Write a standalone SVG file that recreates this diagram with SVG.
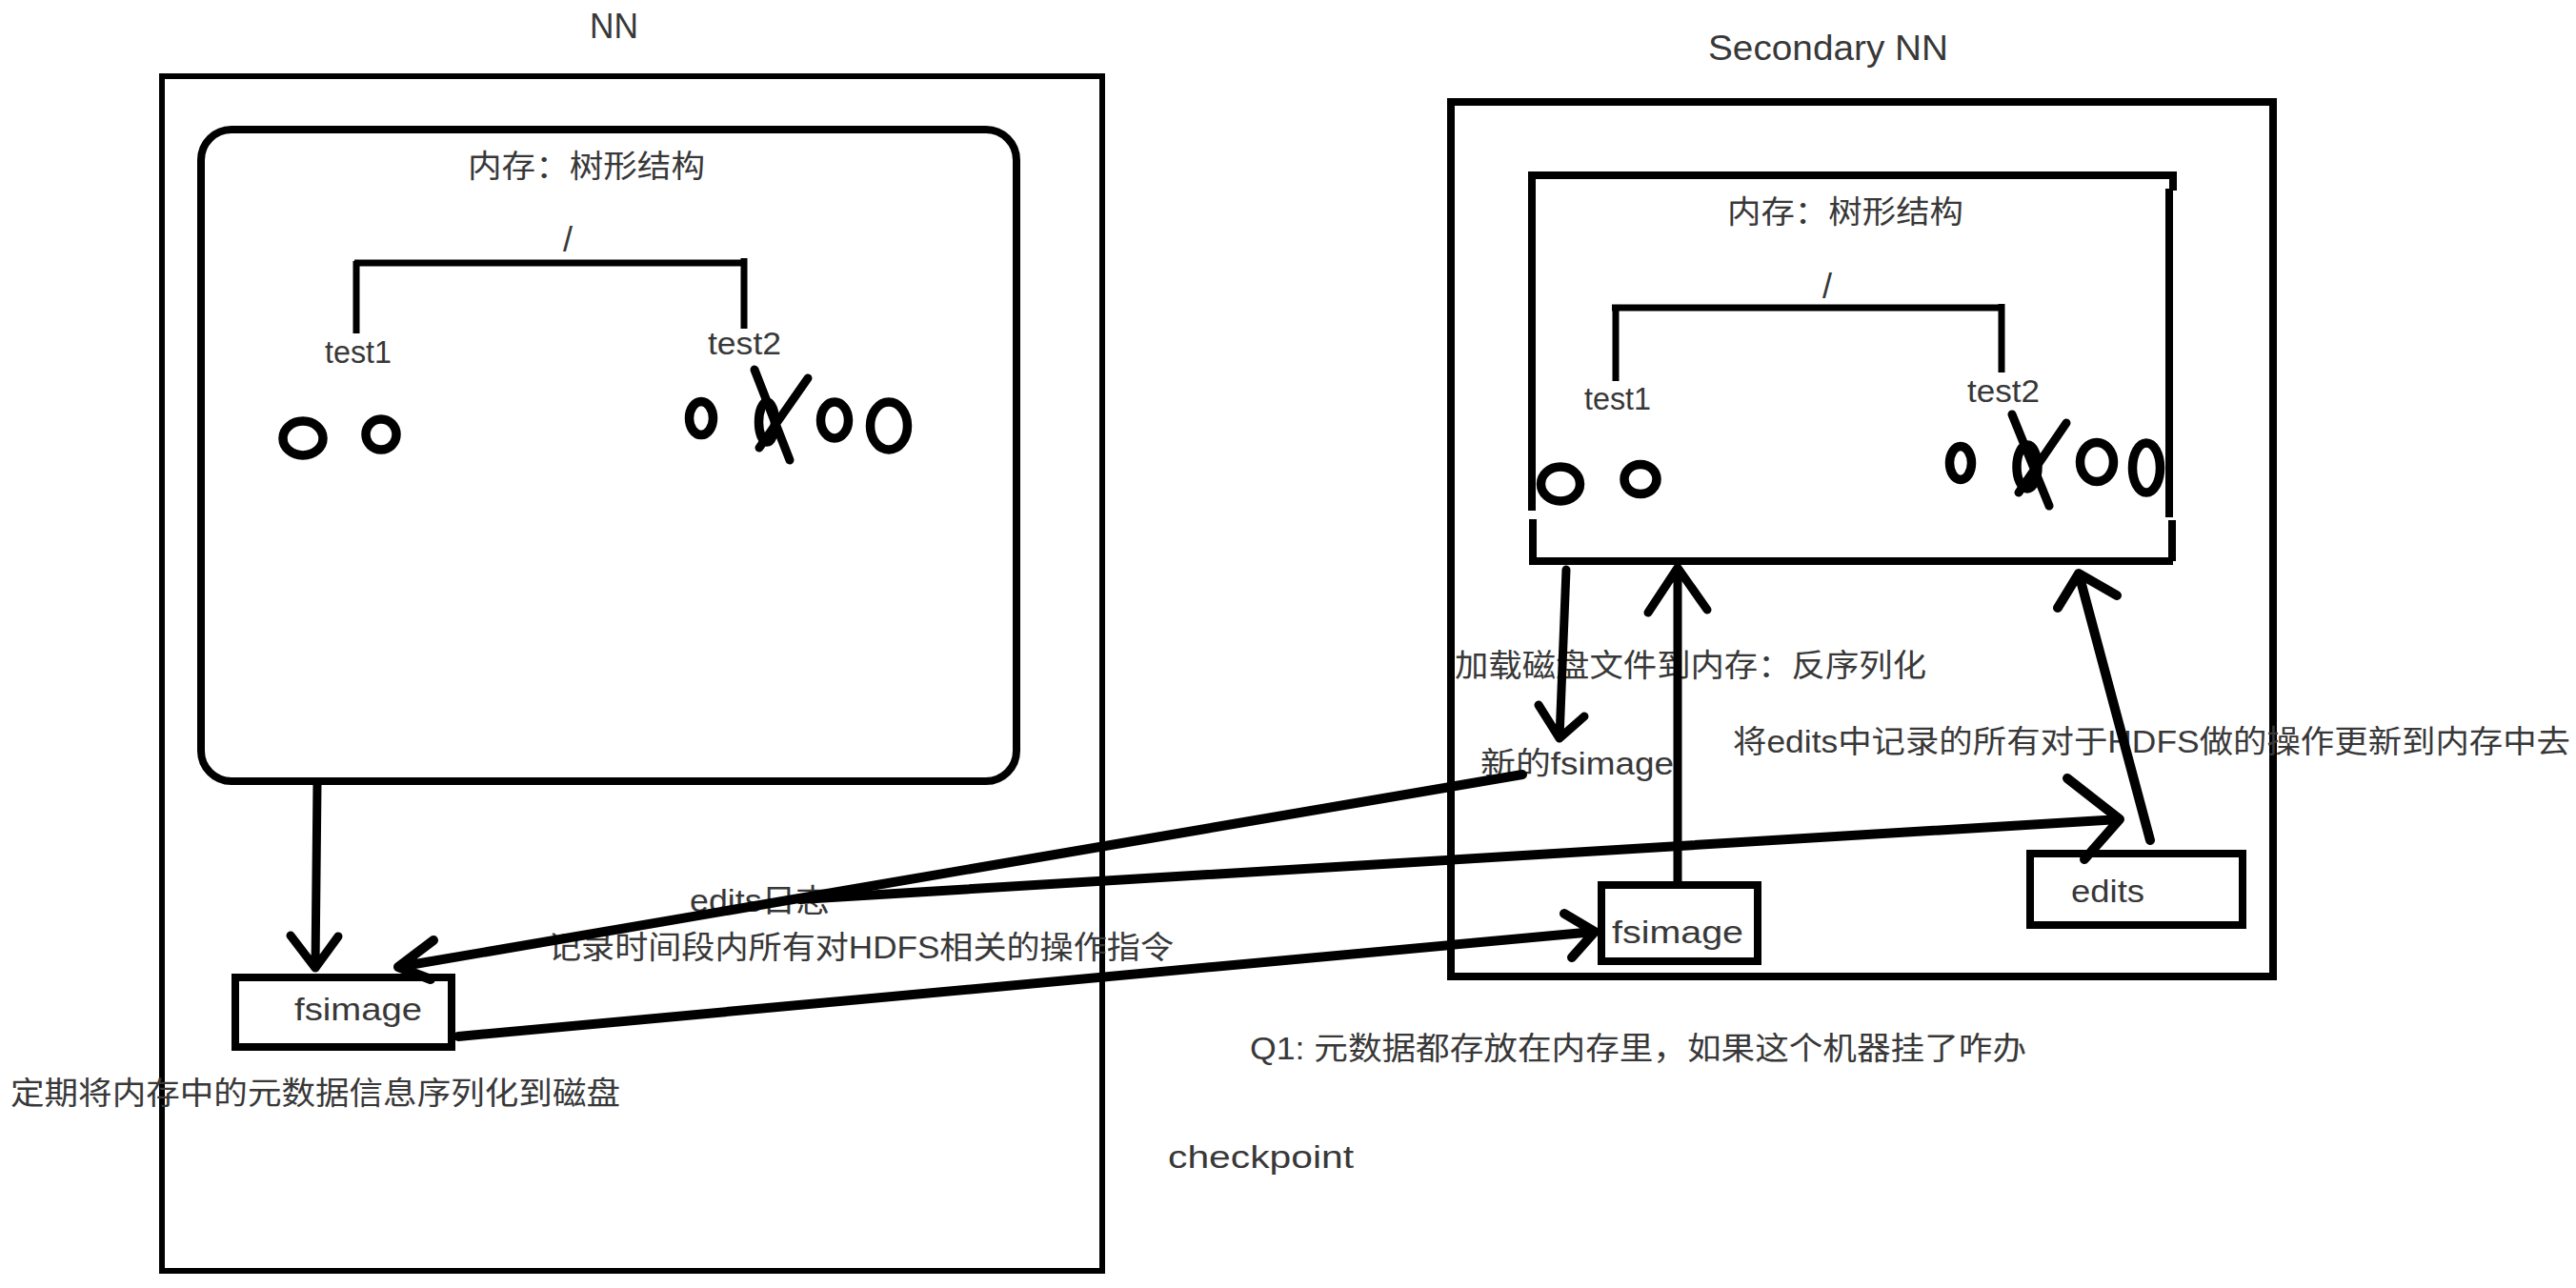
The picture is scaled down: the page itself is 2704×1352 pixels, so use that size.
<svg xmlns="http://www.w3.org/2000/svg" width="2704" height="1352" viewBox="0 0 2704 1352">
<style>
.t{font-family:"Liberation Sans","Noto Sans CJK SC",sans-serif;font-size:33px;fill:#383838}
.big{font-size:36px}
.box{fill:none;stroke:#000;stroke-width:8}
.thin{fill:none;stroke:#000;stroke-width:6}
.o{fill:none;stroke:#000;stroke-width:9.5}
.tree{fill:none;stroke:#000;stroke-width:7;stroke-linecap:butt}
.c{fill:none;stroke:#000;stroke-width:9;stroke-linecap:round;stroke-linejoin:round}
.w{stroke-width:10}
</style>
<rect width="2704" height="1352" fill="#fff"/>

<g id="nn">
  <text class="t big" x="619" y="40" textLength="51" lengthAdjust="spacingAndGlyphs">NN</text>
  <rect class="thin" x="170" y="80" width="987" height="1254"/>
  <g id="nn-memory">
    <rect class="box" x="211" y="136" width="856" height="684" rx="32" ry="32"/>
    <text class="t" x="491" y="186" textLength="249" lengthAdjust="spacingAndGlyphs">内存：树形结构</text>
    <text class="t big" x="591" y="264">/</text>
    <path class="tree" d="M372,276 H781 M374,274 V350 M781,271 V345"/>
    <text class="t" x="341" y="381" font-size="34" textLength="70" lengthAdjust="spacingAndGlyphs">test1</text>
    <text class="t" x="743" y="372" font-size="34" textLength="77" lengthAdjust="spacingAndGlyphs">test2</text>
    <ellipse class="o" cx="318" cy="460" rx="21" ry="18"/>
    <ellipse class="o" cx="400" cy="456" rx="16" ry="16"/>
    <ellipse class="o" cx="736" cy="439" rx="12.5" ry="17.5"/>
    <ellipse class="o" cx="805" cy="443" rx="8.5" ry="21"/>
    <path class="c" d="M792,388 L829,483 M848,397 L797,470"/>
    <ellipse class="o" cx="876" cy="441" rx="14.5" ry="19"/>
    <ellipse class="o" cx="933" cy="447" rx="19.5" ry="25"/>
  </g>
  <g id="nn-fsimage">
    <rect class="box" x="247" y="1026" width="227" height="73"/>
    <text class="t" x="309" y="1071" textLength="134" lengthAdjust="spacingAndGlyphs">fsimage</text>
  </g>
  <text class="t" x="11" y="1159" textLength="640" lengthAdjust="spacingAndGlyphs">定期将内存中的元数据信息序列化到磁盘</text>
</g>

<g id="snn">
  <text class="t big" x="1793" y="63" textLength="252" lengthAdjust="spacingAndGlyphs">Secondary NN</text>
  <rect class="box" x="1523" y="107" width="863" height="918"/>
  <g id="snn-memory">
    <path class="box" d="M1604,184 H2281 V200 M1608,182 V536 M1609,545 V593 M1605,589 H2281 M2277,198 V543 M2280,546 V589"/>
    <text class="t" x="1813" y="234" textLength="248" lengthAdjust="spacingAndGlyphs">内存：树形结构</text>
    <text class="t big" x="1913" y="313">/</text>
    <path class="tree" d="M1692,323 H2101 M1696,321 V400 M2101,319 V391"/>
    <text class="t" x="1663" y="430" font-size="34" textLength="70" lengthAdjust="spacingAndGlyphs">test1</text>
    <text class="t" x="2065" y="422" font-size="34" textLength="76" lengthAdjust="spacingAndGlyphs">test2</text>
    <ellipse class="o" cx="1638" cy="508" rx="20.5" ry="18"/>
    <ellipse class="o" cx="1722" cy="503" rx="17" ry="15.5"/>
    <ellipse class="o" cx="2058" cy="486" rx="11.5" ry="17.5"/>
    <ellipse class="o" cx="2128" cy="490" rx="11" ry="23"/>
    <path class="c" d="M2112,435 L2151,531 M2169,444 L2119,517"/>
    <ellipse class="o" cx="2201" cy="485" rx="17.5" ry="20.5"/>
    <ellipse class="o" cx="2253" cy="491" rx="14.5" ry="26"/>
  </g>
  <g id="snn-fsimage">
    <rect class="box" x="1681" y="929" width="164" height="80"/>
    <text class="t" x="1692" y="990" textLength="138" lengthAdjust="spacingAndGlyphs">fsimage</text>
  </g>
  <g id="snn-edits">
    <rect class="box" x="2131" y="896" width="223" height="75"/>
    <text class="t" x="2174" y="947" textLength="77" lengthAdjust="spacingAndGlyphs">edits</text>
  </g>
</g>

<g id="labels">
  <text class="t" x="1527" y="710" textLength="495" lengthAdjust="spacingAndGlyphs">加载磁盘文件到内存：反序列化</text>
  <text class="t" x="1554" y="813" textLength="203" lengthAdjust="spacingAndGlyphs">新的fsimage</text>
  <text class="t" x="1819" y="790" textLength="879" lengthAdjust="spacingAndGlyphs">将edits中记录的所有对于HDFS做的操作更新到内存中去</text>
  <text class="t" x="724" y="957" textLength="147" lengthAdjust="spacingAndGlyphs">edits日志</text>
  <text class="t" x="575" y="1006" textLength="657" lengthAdjust="spacingAndGlyphs">记录时间段内所有对HDFS相关的操作指令</text>
  <text class="t" x="1312" y="1112" textLength="815" lengthAdjust="spacingAndGlyphs">Q1: 元数据都存放在内存里，如果这个机器挂了咋办</text>
  <text class="t" x="1226" y="1226" textLength="195" lengthAdjust="spacingAndGlyphs">checkpoint</text>
</g>

<g id="connectors">
  <path class="c" d="M333,822 L331,1016 M305,982 L331,1016 L355,983"/>
  <path class="c w" d="M1598,813 L418,1015 M455,987 L418,1015 L452,1028"/>
  <path class="c w" d="M840,944 L2225,860 M2170,817 L2225,860 L2188,902"/>
  <path class="c w" d="M481,1088 L1674,978 M1642,959 L1674,978 L1650,1005"/>
  <path class="c" d="M1644,598 L1637,775 M1615,740 L1637,775 L1663,752"/>
  <path class="c" d="M1761,927 L1761,596 M1730,643 L1761,596 L1792,640"/>
  <path class="c w" d="M2257,882 L2182,602 M2160,638 L2182,602 L2222,625"/>
</g>
</svg>
